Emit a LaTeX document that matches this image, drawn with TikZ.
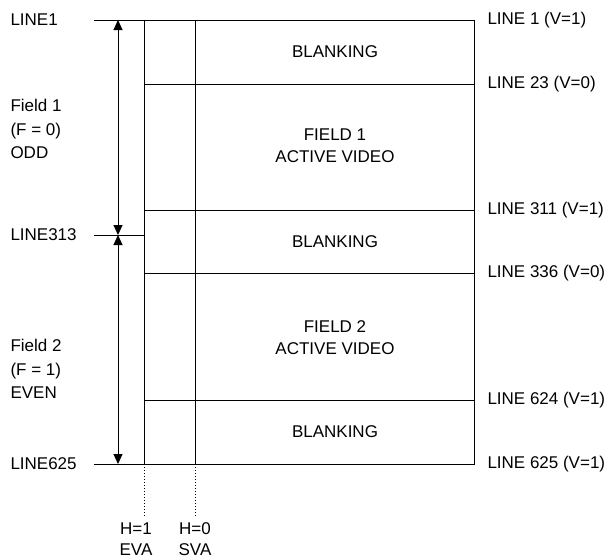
\documentclass[tikz,border=0pt]{standalone}
\usepackage{fontspec}
\setmainfont{Liberation Sans}
\usetikzlibrary{arrows.meta}
\begin{document}
\begin{tikzpicture}[x=1pt,y=-1pt,line width=1pt,
  lbl/.style={font=\fontsize{17}{23.5}\selectfont,inner sep=0pt},
  ctr/.style={font=\fontsize{17}{22}\selectfont,inner sep=0pt,align=center},
  dbl/.style={{Triangle[length=10pt,width=9pt]}-{Triangle[length=10pt,width=9pt]}},
  guide/.style={dotted,line width=1pt}]
\useasboundingbox (0,0) rectangle (613,558);
% frame coordinates
\coordinate (tl) at (144,20);
\coordinate (tr) at (474,20);
\coordinate (bl) at (144,464);
\coordinate (br) at (474,464);
\coordinate (tx) at (94,20);
\coordinate (bx) at (94,464);
\coordinate (ml) at (94,235);
\coordinate (mr) at (144,235);
\coordinate (st) at (195,20);
\coordinate (sb) at (195,464);
\coordinate (a1l) at (144,84);  \coordinate (a1r) at (474,84);
\coordinate (a2l) at (144,210); \coordinate (a2r) at (474,210);
\coordinate (a3l) at (144,273); \coordinate (a3r) at (474,273);
\coordinate (a4l) at (144,400); \coordinate (a4r) at (474,400);
\coordinate (d1) at (144,517);
\coordinate (d2) at (195,517);
\coordinate (ar1) at (118,20);
\coordinate (ar2) at (118,235);
\coordinate (ar3) at (118,464);
% frame
\draw (tx) -- (tr) -- (br) -- (bx);
\draw (tl) -- (bl);
\draw (st) -- (sb);
\draw (ml) -- (mr);
\draw (a1l) -- (a1r);
\draw (a2l) -- (a2r);
\draw (a3l) -- (a3r);
\draw (a4l) -- (a4r);
\draw[guide] (bl) -- (d1);
\draw[guide] (sb) -- (d2);
\draw[dbl] (ar1) -- (ar2);
\draw[dbl] (ar2) -- (ar3);
% left labels
\node[lbl,anchor=west] (l1) at (10,20) {LINE1};
\node[lbl,anchor=west] (l313) at (10,235) {LINE313};
\node[lbl,anchor=west] (l625) at (10,464) {LINE625};
\node[lbl,anchor=west,align=left] (f1) at (10,129) {Field 1\\(F = 0)\\ODD};
\node[lbl,anchor=west,align=left] (f2) at (10,369) {Field 2\\(F = 1)\\EVEN};
% right labels
\node[lbl,anchor=west] (r1) at (487,20) {LINE 1 (V=1)};
\node[lbl,anchor=west] (r23) at (487,84) {LINE 23 (V=0)};
\node[lbl,anchor=west] (r311) at (487,210) {LINE 311 (V=1)};
\node[lbl,anchor=west] (r336) at (487,273) {LINE 336 (V=0)};
\node[lbl,anchor=west] (r624) at (487,400) {LINE 624 (V=1)};
\node[lbl,anchor=west] (r625) at (487,464) {LINE 625 (V=1)};
% center labels
\node[ctr] (b1) at (335,52) {BLANKING};
\node[ctr] (v1) at (335,146) {FIELD 1\\ACTIVE VIDEO};
\node[ctr] (b2) at (335,241.5) {BLANKING};
\node[ctr] (v2) at (335,338) {FIELD 2\\ACTIVE VIDEO};
\node[ctr] (b3) at (335,432) {BLANKING};
% bottom labels
\node[ctr,font=\fontsize{17}{21}\selectfont] (h1) at (136,539.5) {H=1\\EVA};
\node[ctr,font=\fontsize{17}{21}\selectfont] (h0) at (195,539.5) {H=0\\SVA};
\end{tikzpicture}
\end{document}
